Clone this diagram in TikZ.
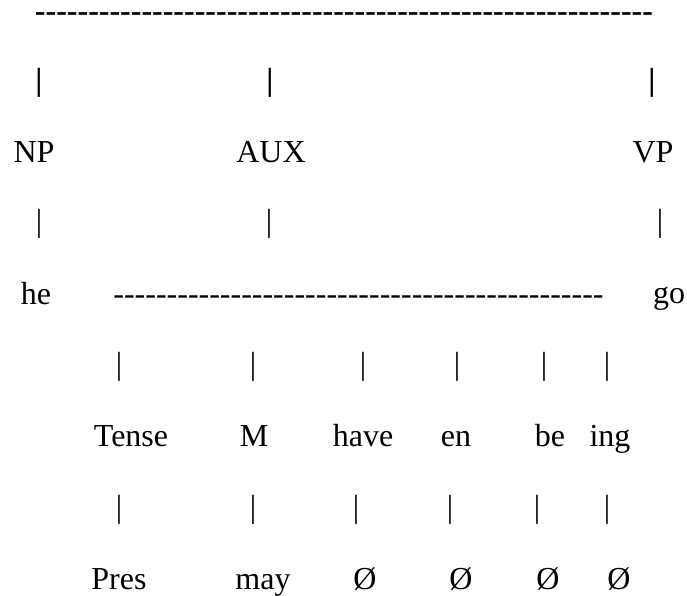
\documentclass[tikz,border=0pt]{standalone}
\usepackage{fontspec}
\setmainfont{Liberation Serif}
% a run of separate hyphens (no -- ligatures)
\ExplSyntaxOn
\cs_new:Npn \hyrun #1 { \prg_replicate:nn {#1} { -{} } }
\ExplSyntaxOff
\tikzset{
  txt/.style={inner sep=0pt, anchor=base, font=\fontsize{32}{38}\selectfont},
  bar/.style={txt},
  heavy/.style={txt, font=\fontsize{32}{38}\selectfont\bfseries},
  rulerow/.style={text height=10pt, text depth=0pt}
}
\begin{document}
\begin{tikzpicture}[x=1pt,y=-1pt]
\useasboundingbox (0,0) rectangle (687,596);
% top rule and its three branches
\node[heavy, rulerow] (rule0) at (344,22) {\hyrun{58}};
\node[heavy] (b1a) at (39,91) {|};
\node[heavy] (b1b) at (270,91) {|};
\node[heavy] (b1c) at (652,91) {|};
% constituents
\node[txt] (np)  at (34,162)  {NP};
\node[txt] (aux) at (271,162) {AUX};
\node[txt] (vp)  at (653,162) {VP};
\node[bar] (b2a) at (39,231) {|};
\node[bar] (b2b) at (269,231) {|};
\node[bar] (b2c) at (660,231) {|};
% lexical row
\node[txt] (he) at (36,304) {he};
\node[txt, rulerow] (rule1) at (358.5,304) {\hyrun{46}};
\node[txt] (go) at (669,303) {go};
% auxiliary elements
\node[bar] (b3a) at (119,374) {|};
\node[bar] (b3b) at (253,374) {|};
\node[bar] (b3c) at (363,374) {|};
\node[bar] (b3d) at (457,374) {|};
\node[bar] (b3e) at (544,374) {|};
\node[bar] (b3f) at (607,374) {|};
\node[txt] (tense) at (131,446) {Tense};
\node[txt] (m)     at (254,446) {M};
\node[txt] (have)  at (363,446) {have};
\node[txt] (en)    at (456,446) {en};
\node[txt] (be)    at (550,446) {be};
\node[txt] (ing)   at (610,446) {ing};
\node[bar] (b4a) at (119,517) {|};
\node[bar] (b4b) at (253,517) {|};
\node[bar] (b4c) at (356,517) {|};
\node[bar] (b4d) at (450,517) {|};
\node[bar] (b4e) at (537,517) {|};
\node[bar] (b4f) at (607,517) {|};
% realisations
\node[txt] (pres) at (119,589) {Pres};
\node[txt] (may)  at (263,589) {may};
\node[txt] (z1)   at (365,589) {Ø};
\node[txt] (z2)   at (461,589) {Ø};
\node[txt] (z3)   at (548,589) {Ø};
\node[txt] (z4)   at (619,589) {Ø};
\end{tikzpicture}
\end{document}
